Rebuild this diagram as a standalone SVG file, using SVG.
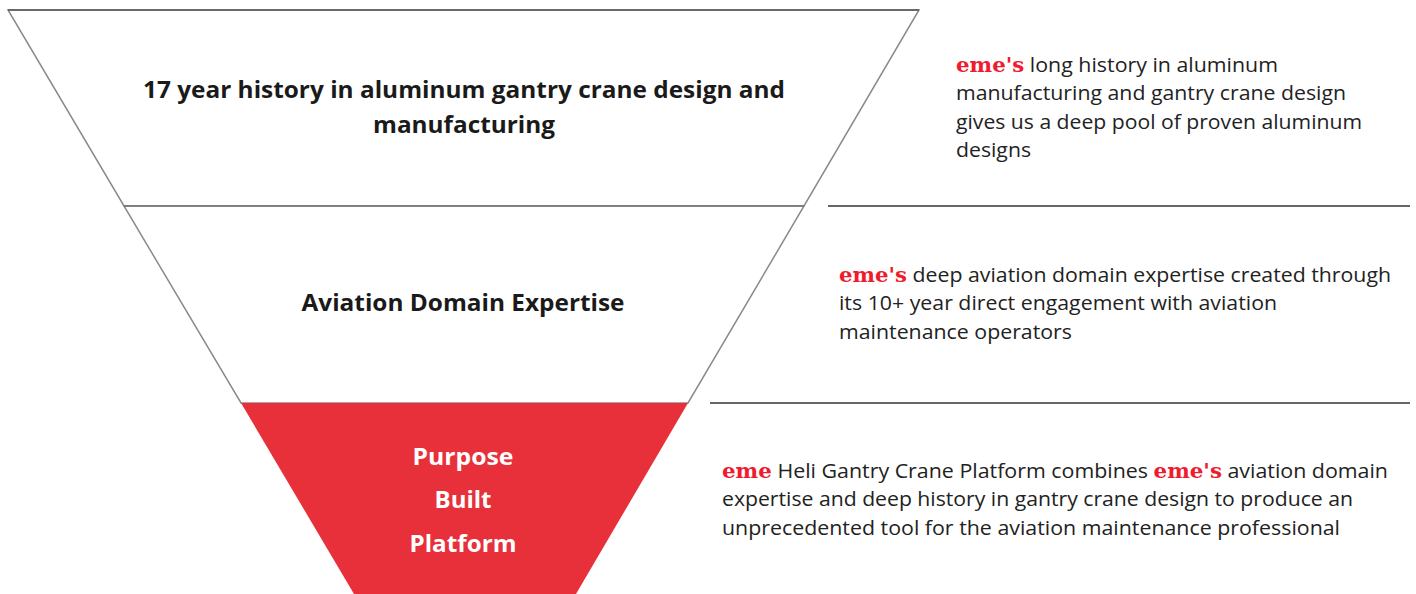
<svg xmlns="http://www.w3.org/2000/svg" width="1416" height="594" viewBox="0 0 1416 594">
<style>
.tier{fill:#ffffff;stroke:#8a8a8a;stroke-width:1.5}
.red{fill:#e8303a}
.title{font-family:"Open Sans",Lato,sans-serif;font-weight:bold;font-size:23px;fill:#1a1a1a;text-anchor:middle}
.wtitle{font-family:"Open Sans",Lato,sans-serif;font-weight:bold;font-size:23px;fill:#ffffff;text-anchor:middle}
.desc{font-family:"Open Sans",Lato,sans-serif;font-size:20px;fill:#222222}
.eme{font-family:"DejaVu Serif","Liberation Serif",serif;font-weight:bold;fill:#ee1c2e}
.sep{stroke:#333333;stroke-width:1.5}
</style>
<rect width="1416" height="594" fill="#ffffff"/>
<g id="tier1">
<polygon class="tier" points="8,10 919,10 804,206 124,206"/>
<line x1="8" y1="10" x2="919" y2="10" stroke="#555" stroke-width="1.5"/>
<text class="title" x="464" y="98" textLength="642" lengthAdjust="spacingAndGlyphs">17 year history in aluminum gantry crane design and</text>
<text class="title" x="464" y="133" textLength="182" lengthAdjust="spacingAndGlyphs">manufacturing</text>
</g>
<g id="tier2">
<polygon class="tier" points="124,206 804,206 688,403 241,403"/>
<line x1="124" y1="206" x2="804" y2="206" stroke="#777" stroke-width="1.5"/>
<text class="title" x="463" y="311" textLength="323" lengthAdjust="spacingAndGlyphs">Aviation Domain Expertise</text>
</g>
<g id="tier3">
<polygon class="red" points="241,403 688,403 576,594 354,594"/>
<text class="wtitle" x="463" y="465" textLength="101" lengthAdjust="spacingAndGlyphs">Purpose</text>
<text class="wtitle" x="463" y="508" textLength="57" lengthAdjust="spacingAndGlyphs">Built</text>
<text class="wtitle" x="463" y="552" textLength="107" lengthAdjust="spacingAndGlyphs">Platform</text>
</g>
<g id="connectors">
<line class="sep" x1="828" y1="206" x2="1410" y2="206"/>
<line class="sep" x1="710" y1="403" x2="1410" y2="403"/>
</g>
<g id="desc1">
<text class="desc" x="956" y="72" textLength="322" lengthAdjust="spacingAndGlyphs"><tspan class="eme">eme's</tspan> long history in aluminum</text>
<text class="desc" x="956" y="100" textLength="390" lengthAdjust="spacingAndGlyphs">manufacturing and gantry crane design</text>
<text class="desc" x="956" y="129" textLength="406" lengthAdjust="spacingAndGlyphs">gives us a deep pool of proven aluminum</text>
<text class="desc" x="956" y="157" textLength="75" lengthAdjust="spacingAndGlyphs">designs</text>
</g>
<g id="desc2">
<text class="desc" x="839" y="282" textLength="552" lengthAdjust="spacingAndGlyphs"><tspan class="eme">eme's</tspan> deep aviation domain expertise created through</text>
<text class="desc" x="839" y="310" textLength="438" lengthAdjust="spacingAndGlyphs">its 10+ year direct engagement with aviation</text>
<text class="desc" x="839" y="339" textLength="233" lengthAdjust="spacingAndGlyphs">maintenance operators</text>
</g>
<g id="desc3">
<text class="desc" x="722" y="478" textLength="666" lengthAdjust="spacingAndGlyphs"><tspan class="eme">eme</tspan> Heli Gantry Crane Platform combines <tspan class="eme">eme's</tspan> aviation domain</text>
<text class="desc" x="722" y="506" textLength="631" lengthAdjust="spacingAndGlyphs">expertise and deep history in gantry crane design to produce an</text>
<text class="desc" x="722" y="535" textLength="618" lengthAdjust="spacingAndGlyphs">unprecedented tool for the aviation maintenance professional</text>
</g>
</svg>
